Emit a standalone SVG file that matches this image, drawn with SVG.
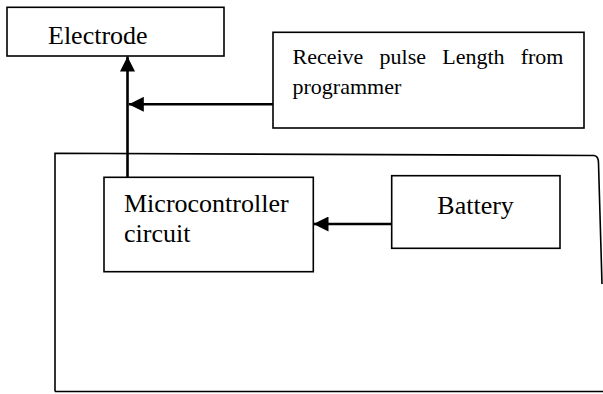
<svg xmlns="http://www.w3.org/2000/svg" width="603" height="394" viewBox="0 0 603 394" font-family="Liberation Serif, Times New Roman, serif">
<style>
.box{fill:#fff;stroke:#000;stroke-width:1.6}
.frame{fill:none;stroke:#000;stroke-width:1.6}
.big{font-size:26px;fill:#000}
.small{font-size:22px;fill:#000}
.conn{stroke:#000;stroke-width:2.6;fill:none}
</style>
<defs>
<marker id="arr" viewBox="0 0 15 15" refX="15" refY="7.5" markerWidth="15" markerHeight="15" markerUnits="userSpaceOnUse" orient="auto">
<path d="M0,0 L15,7.5 L0,15 Z" fill="#000"/>
</marker>
</defs>
<rect width="603" height="394" fill="#fff"/>
<g id="enclosure">
<path class="frame" d="M55,391.5 L55,153.3 L594,155.5 Q598.5,156 598.5,163 L602,284"/>
<path class="frame" d="M55,391.5 L603,391.5"/>
</g>
<g id="electrode">
<rect class="box" x="7" y="7.3" width="217" height="48.7"/>
<text class="big" x="48" y="44">Electrode</text>
</g>
<g id="receive">
<rect class="box" x="273" y="32.3" width="311" height="95.7"/>
<text class="small" y="64"><tspan x="292.5">Receive</tspan><tspan x="379.6">pulse</tspan><tspan x="442.2">Length</tspan><tspan x="520.7">from</tspan></text>
<text class="small" x="292.5" y="93.5">programmer</text>
</g>
<g id="microcontroller">
<rect class="box" x="104" y="177.3" width="209.3" height="94.4"/>
<text class="big" x="124" y="211.7">Microcontroller</text>
<text class="big" x="124" y="241.7">circuit</text>
</g>
<g id="battery">
<rect class="box" x="391.7" y="175.7" width="168.3" height="72.6"/>
<text class="big" x="437.3" y="213.5">Battery</text>
</g>
<g id="connectors">
<line class="conn" x1="127.5" y1="177.3" x2="127.5" y2="56.5" marker-end="url(#arr)"/>
<line class="conn" x1="273" y1="104.3" x2="128.8" y2="104.3" marker-end="url(#arr)"/>
<line class="conn" x1="391.7" y1="224" x2="313.5" y2="224" marker-end="url(#arr)"/>
</g>
</svg>
